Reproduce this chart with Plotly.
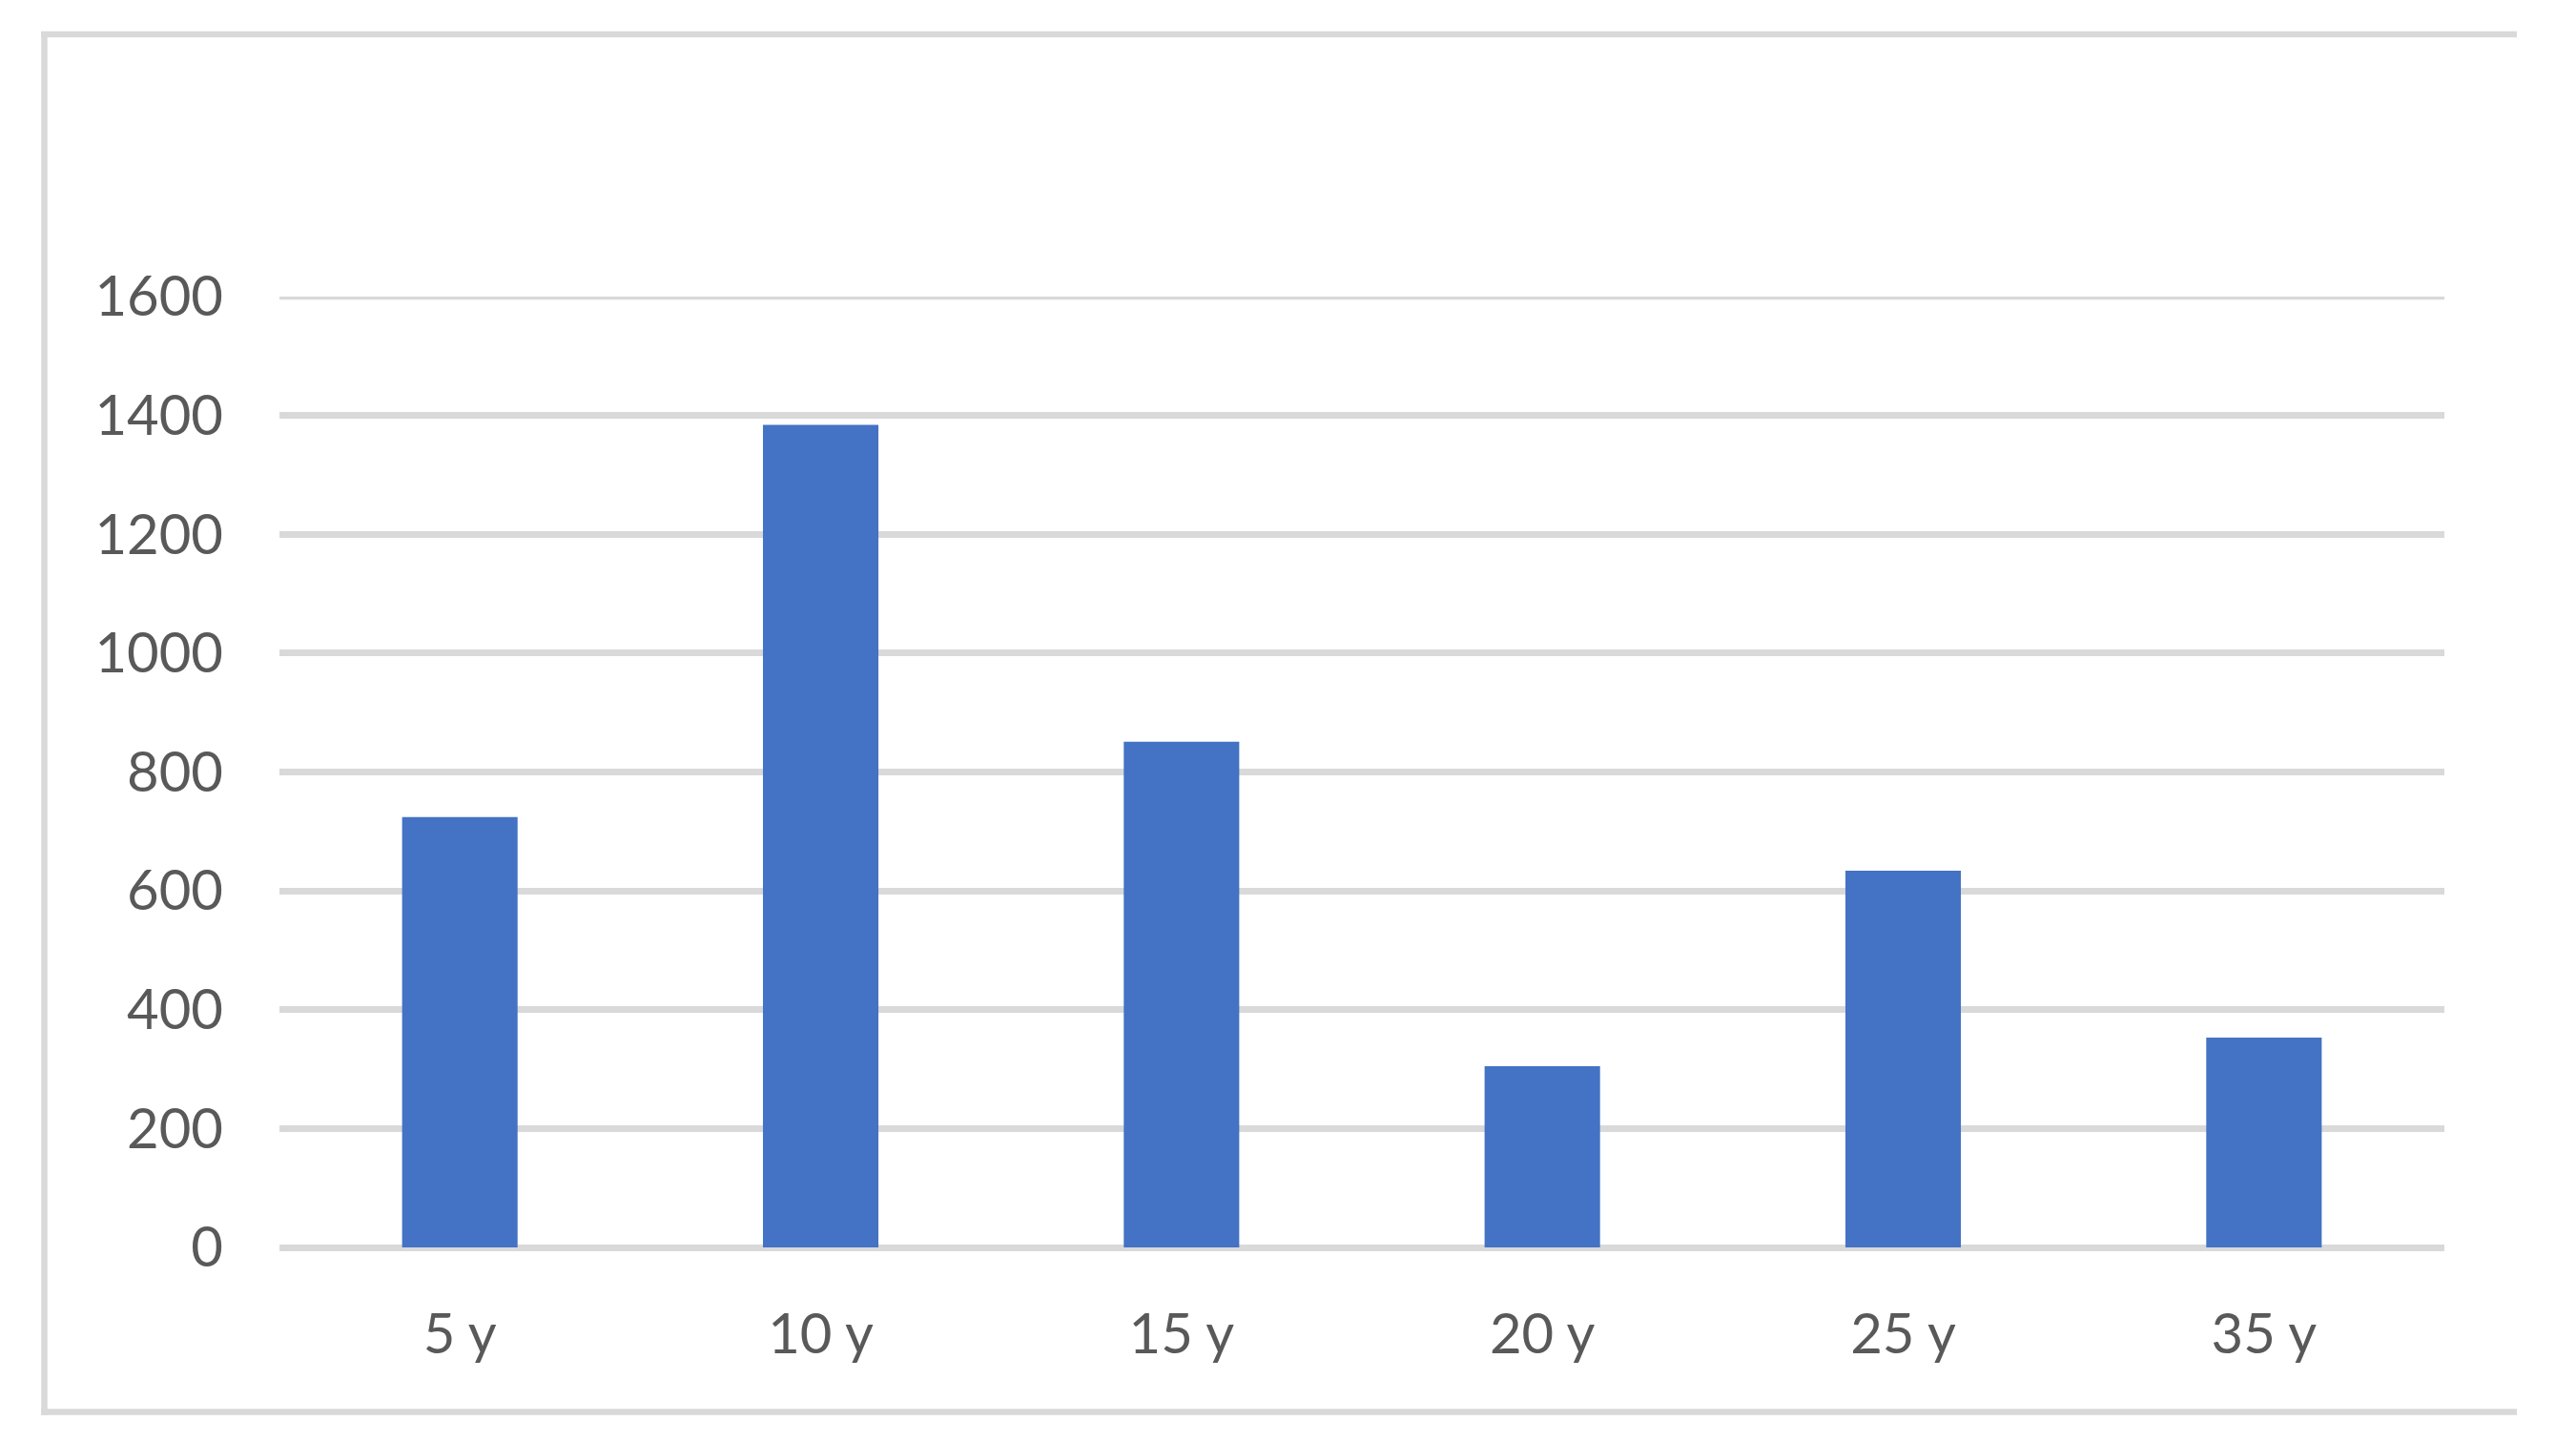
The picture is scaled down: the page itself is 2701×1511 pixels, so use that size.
import plotly.graph_objects as go

categories = ["5 y", "10 y", "15 y", "20 y", "25 y", "35 y"]
values = [724, 1384, 851, 305, 634, 353]
y_ticks = [0, 200, 400, 600, 800, 1000, 1200, 1400, 1600]

# page body adds an 8px offset; size the figure so it fits the window
OFF = 8
W, H = 2693, 1503
L, R, T, B = 285, 138, 303, 203
grid_color = "#D9D9D9"
text_color = "#595959"
font_family = "Lato, 'Open Sans', sans-serif"

pw, ph = W - L - R, H - T - B


def px_x(sx):
    return (sx - OFF - L) / pw


def px_y(sy):
    return (H - B - (sy - OFF)) / ph


fig = go.Figure()
fig.add_trace(go.Bar(
    x=categories, y=values,
    marker=dict(color="#4472C4", line=dict(width=0)),
    width=0.32,
    hoverinfo="x+y",
))

border = dict(color=grid_color, width=6.5)
fig.update_layout(
    width=W, height=H,
    margin=dict(l=L, r=R, t=T, b=B),
    paper_bgcolor="white", plot_bgcolor="white",
    showlegend=False,
    font=dict(family=font_family, color=text_color, size=58),
    xaxis=dict(
        type="category",
        showgrid=False, showline=False, zeroline=False,
        ticks="", ticklabelstandoff=52,
        tickfont=dict(size=58, color=text_color),
    ),
    yaxis=dict(
        range=[0, 1600],
        tickvals=y_ticks, ticktext=[str(v) for v in y_ticks],
        showgrid=True, gridcolor=grid_color, gridwidth=6.5,
        zeroline=True, zerolinecolor=grid_color, zerolinewidth=6.5,
        showline=False, ticks="",
        ticklabelstandoff=58,
        tickfont=dict(size=58, color=text_color),
    ),
    shapes=[
        # top gridline (at the range end)
        dict(type="line", xref="paper", yref="y", x0=0, x1=1,
             y0=y_ticks[-1], y1=y_ticks[-1], line=dict(color=grid_color, width=6.5),
             layer="below"),
        # chart border: top, bottom, left
        dict(type="line", xref="paper", yref="paper",
             x0=px_x(43), x1=px_x(2639), y0=px_y(36), y1=px_y(36),
             line=border, layer="below"),
        dict(type="line", xref="paper", yref="paper",
             x0=px_x(43), x1=px_x(2639), y0=px_y(1480.5), y1=px_y(1480.5),
             line=border, layer="below"),
        dict(type="line", xref="paper", yref="paper",
             x0=px_x(46.5), x1=px_x(46.5), y0=px_y(33), y1=px_y(1484),
             line=border, layer="below"),
    ],
)

fig.write_html("out.html")
